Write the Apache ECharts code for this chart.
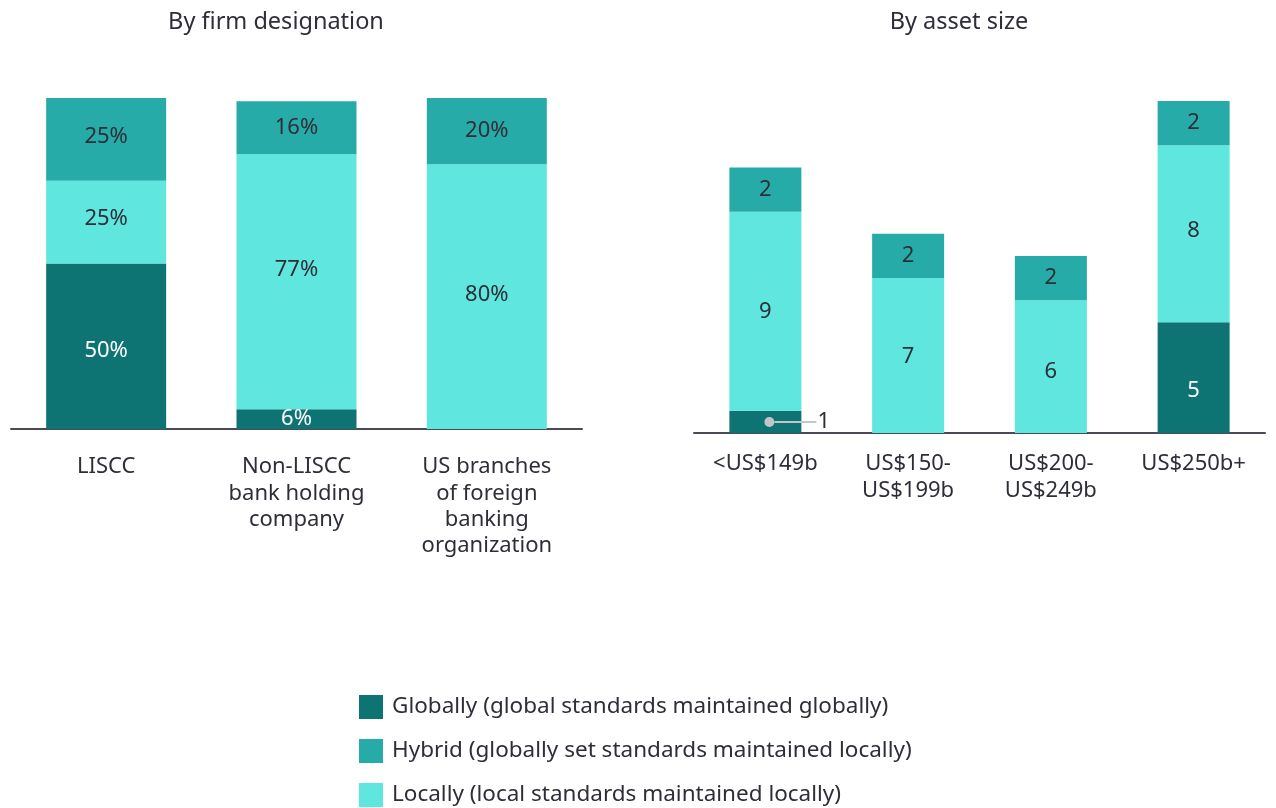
<!DOCTYPE html>
<html>
<head>
<meta charset="utf-8">
<script src="https://cdn.jsdelivr.net/npm/echarts@6/dist/echarts.min.js"></script>
<style>
html,body{margin:0;padding:0;background:#fff;}
#chart{width:1276px;height:808px;}
</style>
</head>
<body>
<div id="chart"></div>
<script>
// ---- Data ----
const firmCategories = ['LISCC', 'Non-LISCC\nbank holding\ncompany', 'US branches\nof foreign\nbanking\norganization'];
const firmGlobally = [50, 6, 0];
const firmLocally = [25, 77, 80];
const firmHybrid = [25, 16, 20];

const sizeCategories = ['<US$149b', 'US$150-\nUS$199b', 'US$200-\nUS$249b', 'US$250b+'];
const sizeGlobally = [1, 0, 0, 5];
const sizeLocally = [9, 7, 6, 8];
const sizeHybrid = [2, 2, 2, 2];

const seriesNames = [
  'Globally (global standards maintained globally)',
  'Hybrid (globally set standards maintained locally)',
  'Locally (local standards maintained locally)'
];

// ---- Style ----
const C_GLOBAL = '#0e7473';
const C_HYBRID = '#27aba8';
const C_LOCAL = '#5fe6df';
const TXT = '#2e2e38';
const FONT = 'Noto Sans';
const LABEL_SIZE = 22;

// label vertical nudges (style only), keyed by series + category index
const labelNudge = {
  firmGlobally: { 0: 4 },
  firmLocally: { 0: -3, 1: -12, 2: -2 },
  firmHybrid: { 0: -3 },
  sizeGlobally: { 3: 13 },
  sizeLocally: { 1: 1, 2: 5, 3: -3 },
  sizeHybrid: {}
};

function build(values, key) {
  const nudge = labelNudge[key] || {};
  return values.map((v, i) => {
    const item = { value: v };
    if (nudge[i]) item.label = { offset: [0, nudge[i]] };
    return item;
  });
}
function segLabel(color, suffix) {
  return {
    show: true, position: 'inside', color: color, fontFamily: FONT, fontSize: LABEL_SIZE,
    formatter: p => (p.value ? p.value + suffix : '')
  };
}

// small segment with leader line label
const sizeGloballyData = build(sizeGlobally, 'sizeGlobally').map(item => {
  if (item.value > 0 && item.value < 2) {
    item.label = {
      show: true, position: 'insideLeft', distance: 35,
      formatter: p => '{dot|}{ln|}{num|' + p.value + '}',
      rich: {
        dot: { width: 10, height: 10, borderRadius: 5, backgroundColor: '#c4c4cc' },
        ln: { width: 42, height: 2, backgroundColor: '#c4c4cc' },
        num: { color: TXT, fontFamily: FONT, fontSize: LABEL_SIZE, padding: [0, 0, 0, 1] }
      }
    };
  }
  return item;
});

const axisLabelStyle = { color: TXT, fontFamily: FONT, fontSize: 22, lineHeight: 26.3, interval: 0 };

const option = {
  animation: false,
  backgroundColor: '#fff',
  title: [
    { text: 'By firm designation', left: 271, top: 5, textAlign: 'center',
      textStyle: { color: TXT, fontFamily: FONT, fontSize: 23.5, fontWeight: 'normal' } },
    { text: 'By asset size', left: 954, top: 5, textAlign: 'center',
      textStyle: { color: TXT, fontFamily: FONT, fontSize: 23.5, fontWeight: 'normal' } }
  ],
  legend: {
    orient: 'vertical', left: 359, top: 695, padding: 0,
    itemWidth: 24, itemHeight: 24, itemGap: 20, icon: 'rect',
    data: seriesNames,
    textStyle: { color: TXT, fontFamily: FONT, fontSize: 22.5, padding: [0, 0, 0, 4] },
    selectedMode: false
  },
  grid: [
    { left: 11, width: 571, top: 98, height: 331 },
    { left: 694, width: 571, top: 101, height: 332 }
  ],
  xAxis: [
    { type: 'category', gridIndex: 0, data: firmCategories,
      axisLine: { lineStyle: { color: '#4a4a52', width: 2 } }, axisTick: { show: false },
      axisLabel: Object.assign({ margin: 25 }, axisLabelStyle) },
    { type: 'category', gridIndex: 1, data: sizeCategories,
      axisLine: { lineStyle: { color: '#4a4a52', width: 2 } }, axisTick: { show: false },
      axisLabel: Object.assign({ margin: 18 }, axisLabelStyle) }
  ],
  yAxis: [
    { type: 'value', gridIndex: 0, min: 0, max: 100, show: false },
    { type: 'value', gridIndex: 1, min: 0, max: 15, show: false }
  ],
  series: [
    { name: seriesNames[0], type: 'bar', stack: 'a', xAxisIndex: 0, yAxisIndex: 0, barWidth: 120,
      itemStyle: { color: C_GLOBAL }, label: segLabel('#ffffff', '%'), data: build(firmGlobally, 'firmGlobally') },
    { name: seriesNames[2], type: 'bar', stack: 'a', xAxisIndex: 0, yAxisIndex: 0, barWidth: 120,
      itemStyle: { color: C_LOCAL }, label: segLabel(TXT, '%'), data: build(firmLocally, 'firmLocally') },
    { name: seriesNames[1], type: 'bar', stack: 'a', xAxisIndex: 0, yAxisIndex: 0, barWidth: 120,
      itemStyle: { color: C_HYBRID }, label: segLabel(TXT, '%'), data: build(firmHybrid, 'firmHybrid') },

    { name: seriesNames[0], type: 'bar', stack: 'b', xAxisIndex: 1, yAxisIndex: 1, barWidth: 72,
      itemStyle: { color: C_GLOBAL }, label: segLabel('#ffffff', ''), data: sizeGloballyData },
    { name: seriesNames[2], type: 'bar', stack: 'b', xAxisIndex: 1, yAxisIndex: 1, barWidth: 72,
      itemStyle: { color: C_LOCAL }, label: segLabel(TXT, ''), data: build(sizeLocally, 'sizeLocally') },
    { name: seriesNames[1], type: 'bar', stack: 'b', xAxisIndex: 1, yAxisIndex: 1, barWidth: 72,
      itemStyle: { color: C_HYBRID }, label: segLabel(TXT, ''), data: build(sizeHybrid, 'sizeHybrid') }
  ]
};

const chart = echarts.init(document.getElementById('chart'), null, { renderer: 'canvas' });
chart.setOption(option);
</script>
</body>
</html>
